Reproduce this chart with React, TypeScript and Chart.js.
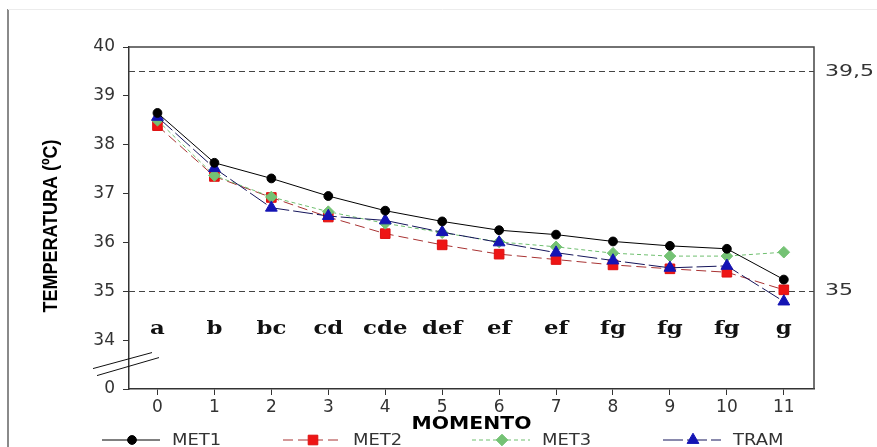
import React, { useEffect, useRef } from "react";
import { Chart, registerables } from "chart.js";

Chart.register(...registerables);

const MOMENTS = [0, 1, 2, 3, 4, 5, 6, 7, 8, 9, 10, 11];
const MET1 = [38.65, 37.63, 37.31, 36.95, 36.65, 36.43, 36.25, 36.16, 36.02, 35.93, 35.87, 35.24];
const MET2 = [38.39, 37.35, 36.92, 36.52, 36.18, 35.95, 35.76, 35.65, 35.54, 35.46, 35.39, 35.03];
const MET3 = [38.5, 37.37, 36.93, 36.63, 36.39, 36.2, 36.01, 35.91, 35.78, 35.72, 35.72, 35.8];
const TRAM = [38.57, 37.52, 36.71, 36.54, 36.45, 36.21, 36.0, 35.79, 35.63, 35.48, 35.52, 34.79];
const LETTERS = ["a", "b", "bc", "cd", "cde", "def", "ef", "ef", "fg", "fg", "fg", "g"];
const Y_TICKS = [33, 34, 35, 36, 37, 38, 39, 40];
const Y_TICK_LABELS = ["0", "34", "35", "36", "37", "38", "39", "40"];
const REF_LINES = [39.5, 35];
const REF_LABELS = ["39,5", "35"];
const SERIES_NAMES = ["MET1", "MET2", "MET3", "TRAM"];

const TICK_FONT = { family: "'DejaVu Sans', Verdana, sans-serif", size: 17 };

function stretchedText(ctx: CanvasRenderingContext2D, text: string, x: number, y: number, sx: number, sy = 1) {
  ctx.save();
  ctx.translate(x, y);
  ctx.scale(sx, sy);
  ctx.fillText(text, 0, 0);
  ctx.restore();
}

export default function App() {
  const ref = useRef<HTMLCanvasElement | null>(null);

  useEffect(() => {
    document.body.style.margin = "0";
    const canvas = ref.current;
    if (!canvas) return;

    const toXY = (arr: number[]) => MOMENTS.map((m, i) => ({ x: m, y: arr[i] }));

    const decorPlugin = {
      id: "decor",
      beforeDatasetsDraw(chart: any) {
        const { ctx, chartArea: a, scales } = chart;
        const y = scales.y;
        ctx.save();
        ctx.strokeStyle = "#444";
        ctx.lineWidth = 1;
        ctx.setLineDash([6, 4]);
        REF_LINES.forEach((v) => {
          const py = Math.round(y.getPixelForValue(v)) + 0.5;
          ctx.beginPath();
          ctx.moveTo(a.left, py);
          ctx.lineTo(a.right, py);
          ctx.stroke();
        });
        ctx.restore();
      },
      afterDraw(chart: any) {
        const { ctx, chartArea: a, scales } = chart;
        const x = scales.x;
        const y = scales.y;
        ctx.save();
        // outer frame lines (image border)
        ctx.strokeStyle = "#8a8a8a";
        ctx.lineWidth = 2;
        ctx.beginPath();
        ctx.moveTo(8, 9);
        ctx.lineTo(8, 447);
        ctx.stroke();
        ctx.strokeStyle = "#ececec";
        ctx.lineWidth = 1;
        ctx.beginPath();
        ctx.moveTo(8, 9.5);
        ctx.lineTo(877, 9.5);
        ctx.stroke();

        // top and right border of plot box
        ctx.strokeStyle = "#444";
        ctx.lineWidth = 1.5;
        ctx.beginPath();
        ctx.moveTo(a.left, a.top);
        ctx.lineTo(a.right, a.top);
        ctx.lineTo(a.right, a.bottom);
        ctx.stroke();

        // axis break marks
        const by = y.getPixelForValue(33.5);
        ctx.strokeStyle = "#111";
        ctx.lineWidth = 1;
        ctx.beginPath();
        ctx.moveTo(a.left - 36, by + 4);
        ctx.lineTo(a.left + 23, by - 12);
        ctx.moveTo(a.left - 32, by + 11);
        ctx.lineTo(a.left + 30, by - 7);
        ctx.stroke();

        // reference line labels
        ctx.fillStyle = "#333";
        ctx.font = "16px 'DejaVu Sans', Verdana, sans-serif";
        ctx.textAlign = "left";
        ctx.textBaseline = "middle";
        REF_LINES.forEach((v, i) => {
          stretchedText(ctx, REF_LABELS[i], a.right + 11, y.getPixelForValue(v), 1.38);
        });

        // significance letters
        ctx.fillStyle = "#111";
        ctx.font = "bold 19px 'DejaVu Serif', 'Liberation Serif', serif";
        ctx.textAlign = "center";
        ctx.textBaseline = "alphabetic";
        MOMENTS.forEach((m, i) => {
          stretchedText(ctx, LETTERS[i], x.getPixelForValue(m), y.getPixelForValue(34) - 6, 1.2);
        });

        // axis titles
        ctx.fillStyle = "#000";
        ctx.font = "bold 18px 'DejaVu Sans', Verdana, sans-serif";
        ctx.textAlign = "center";
        ctx.textBaseline = "middle";
        stretchedText(ctx, "MOMENTO", (a.left + a.right) / 2, 424, 1.13);
        ctx.save();
        ctx.translate(51, 226);
        ctx.rotate(-Math.PI / 2);
        ctx.font = "bold 18px 'Liberation Sans', Arial, sans-serif";
        stretchedText(ctx, "TEMPERATURA (ºC)", 0, 0, 1, 1.15);
        ctx.restore();

        // legend
        const ly = 440;
        const xs = [102, 283, 472, 663];
        chart.data.datasets.forEach((ds: any, i: number) => {
          const x0 = xs[i];
          ctx.save();
          ctx.strokeStyle = ds.borderColor;
          ctx.lineWidth = 1;
          ctx.setLineDash(ds.borderDash || []);
          ctx.beginPath();
          ctx.moveTo(x0, ly);
          ctx.lineTo(x0 + 58, ly);
          ctx.stroke();
          ctx.setLineDash([]);
          ctx.fillStyle = ds.pointBackgroundColor;
          ctx.strokeStyle = ds.pointBorderColor;
          ctx.lineWidth = 1;
          const r = ds.pointRadius;
          const cx = x0 + 30;
          ctx.beginPath();
          if (ds.pointStyle === "circle") {
            ctx.arc(cx, ly, r, 0, Math.PI * 2);
          } else if (ds.pointStyle === "rect") {
            const s = Math.SQRT1_2 * r;
            ctx.rect(cx - s, ly - s, 2 * s, 2 * s);
          } else if (ds.pointStyle === "rectRot") {
            ctx.moveTo(cx - r, ly);
            ctx.lineTo(cx, ly - r);
            ctx.lineTo(cx + r, ly);
            ctx.lineTo(cx, ly + r);
            ctx.closePath();
          } else {
            const w = (r * Math.sqrt(3)) / 2;
            ctx.moveTo(cx, ly - r);
            ctx.lineTo(cx + w, ly + r / 2);
            ctx.lineTo(cx - w, ly + r / 2);
            ctx.closePath();
          }
          ctx.fill();
          ctx.stroke();
          ctx.fillStyle = "#333";
          ctx.font = "16px 'DejaVu Sans', Verdana, sans-serif";
          ctx.textAlign = "left";
          ctx.textBaseline = "middle";
          stretchedText(ctx, SERIES_NAMES[i], x0 + 70, ly + 1, 1.12);
          ctx.restore();
        });
        ctx.restore();
      },
    };

    const chart = new Chart(canvas, {
      type: "line",
      data: {
        datasets: [
          {
            label: SERIES_NAMES[0],
            data: toXY(MET1),
            borderColor: "#000000",
            borderWidth: 1,
            pointStyle: "circle",
            pointRadius: 4.4,
            pointBackgroundColor: "#000000",
            pointBorderColor: "#000000",
            order: 0,
          },
          {
            label: SERIES_NAMES[1],
            data: toXY(MET2),
            borderColor: "#a83232",
            borderWidth: 1,
            borderDash: [10, 5],
            pointStyle: "rect",
            pointRadius: 6.8,
            pointBackgroundColor: "#ee1515",
            pointBorderColor: "#dd1010",
            order: 3,
          },
          {
            label: SERIES_NAMES[2],
            data: toXY(MET3),
            borderColor: "#6fbf6f",
            borderWidth: 1,
            borderDash: [4, 3],
            pointStyle: "rectRot",
            pointRadius: 5.8,
            pointBackgroundColor: "#74c274",
            pointBorderColor: "#74c274",
            order: 2,
          },
          {
            label: SERIES_NAMES[3],
            data: toXY(TRAM),
            borderColor: "#14145a",
            borderWidth: 1,
            borderDash: [20, 4],
            pointStyle: "triangle",
            pointRadius: 6.8,
            pointBackgroundColor: "#1414b4",
            pointBorderColor: "#1414b4",
            order: 1,
          },
        ] as any,
      },
      options: {
        animation: false,
        responsive: false,
        maintainAspectRatio: false,
        devicePixelRatio: 1,
        layout: { padding: { left: 0, top: 47, right: 63, bottom: 0 } },
        plugins: {
          legend: { display: false },
          tooltip: { enabled: false },
          title: { display: false },
        },
        elements: { line: { tension: 0 } },
        scales: {
          x: {
            type: "linear",
            min: -0.5,
            max: 11.53,
            afterBuildTicks: (s: any) => {
              s.ticks = MOMENTS.map((v) => ({ value: v }));
            },
            afterFit: (s: any) => {
              s.height = 58;
            },
            ticks: {
              color: "#333",
              font: TICK_FONT,
              padding: 2,
              maxRotation: 0,
              autoSkip: false,
              callback: (v: any) => String(v),
            },
            grid: {
              display: true,
              drawOnChartArea: false,
              drawTicks: true,
              tickLength: 6,
              color: "#333",
            },
            border: { display: true, color: "#333", width: 1.5 },
          },
          y: {
            type: "linear",
            min: 33,
            max: 40,
            afterBuildTicks: (s: any) => {
              s.ticks = Y_TICKS.map((v) => ({ value: v }));
            },
            afterFit: (s: any) => {
              s.width = 129;
            },
            ticks: {
              color: "#333",
              font: TICK_FONT,
              padding: 8,
              autoSkip: false,
              callback: (v: any) => {
                const i = Y_TICKS.indexOf(Number(v));
                return i >= 0 ? Y_TICK_LABELS[i] : "";
              },
            },
            grid: {
              display: true,
              drawOnChartArea: false,
              drawTicks: true,
              tickLength: 6,
              color: "#333",
            },
            border: { display: true, color: "#333", width: 1.5 },
          },
        },
      } as any,
      plugins: [decorPlugin],
    });

    return () => chart.destroy();
  }, []);

  return (
    <div style={{ width: 877, height: 447, background: "#fff", position: "relative" }}>
      <canvas ref={ref} width={877} height={447} style={{ display: "block" }} />
    </div>
  );
}
